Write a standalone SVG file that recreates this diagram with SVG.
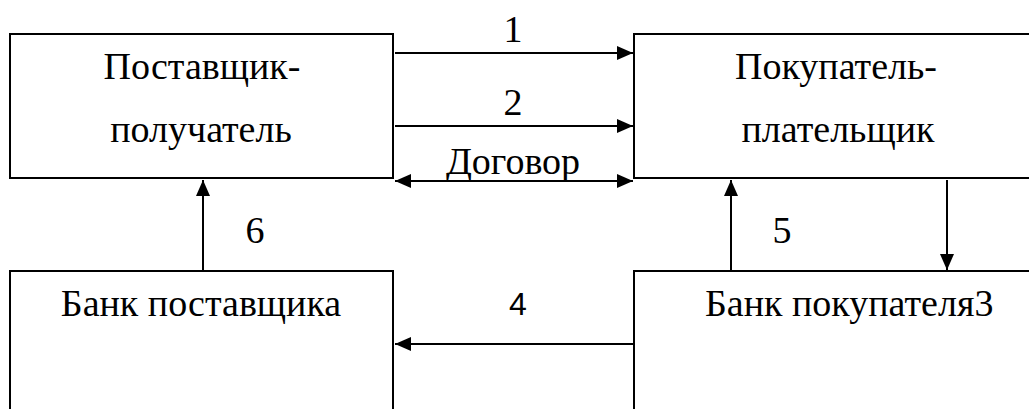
<svg xmlns="http://www.w3.org/2000/svg" width="1029" height="409" viewBox="0 0 1029 409">
<style>
.box{fill:#fff;stroke:#000;stroke-width:2}
.c{stroke:#000;stroke-width:2;fill:none}
</style>
<defs>
<marker id="ah" markerUnits="userSpaceOnUse" markerWidth="17" markerHeight="14" refX="16" refY="7" orient="auto-start-reverse">
<path d="M0,0 L16,7 L0,14 z" fill="#000"/>
</marker>
</defs>
<rect width="1029" height="409" fill="#fff"/>
<g font-family="Liberation Serif, Tinos, Times New Roman, DejaVu Serif, serif" font-size="38" fill="#000" text-anchor="middle">
<g id="supplier">
<rect class="box" x="10" y="34" width="383" height="144"/>
<text x="202" y="79">Поставщик-</text>
<text x="201" y="142">получатель</text>
</g>
<g id="buyer">
<rect class="box" x="634" y="34" width="420" height="144"/>
<text x="836" y="79">Покупатель-</text>
<text x="838" y="142">плательщик</text>
</g>
<g id="supplier-bank">
<rect class="box" x="10" y="271" width="383" height="200"/>
<text x="201" y="316">Банк поставщика</text>
</g>
<g id="buyer-bank">
<rect class="box" x="634" y="271" width="420" height="200"/>
<text x="705" y="316" text-anchor="start">Банк покупателя3</text>
</g>
<g id="connectors">
<line class="c" x1="395" y1="53" x2="633" y2="53" marker-end="url(#ah)"/>
<text x="513" y="42">1</text>
<line class="c" x1="395" y1="126" x2="633" y2="126" marker-end="url(#ah)"/>
<text x="513" y="115">2</text>
<line class="c" x1="395" y1="181" x2="633" y2="181" marker-start="url(#ah)" marker-end="url(#ah)"/>
<text x="513" y="174">Договор</text>
<line class="c" x1="203" y1="271" x2="203" y2="180" marker-end="url(#ah)"/>
<text x="255" y="243">6</text>
<line class="c" x1="731" y1="271" x2="731" y2="180" marker-end="url(#ah)"/>
<text x="782" y="243">5</text>
<line class="c" x1="947" y1="180" x2="947" y2="270" marker-end="url(#ah)"/>
<line class="c" x1="633" y1="344" x2="395" y2="344" marker-end="url(#ah)"/>
<text x="518" y="315" font-family="Liberation Sans, Arial, sans-serif" font-size="32">4</text>
</g>
</g>
</svg>
